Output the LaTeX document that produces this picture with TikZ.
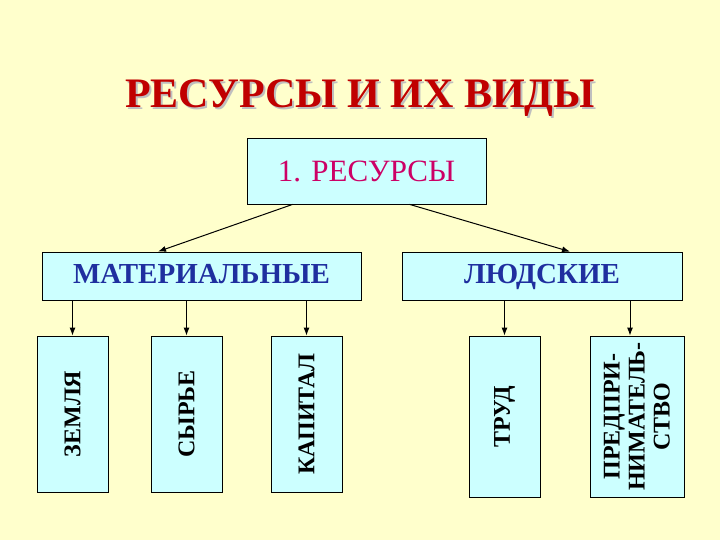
\documentclass[tikz,border=0pt]{standalone}
\usepackage{fontspec}
\setmainfont{Liberation Serif}
\usetikzlibrary{arrows.meta}
\begin{document}
\begin{tikzpicture}[x=1pt,y=-1pt,
  box/.style={draw=black,fill=cyanbox,line width=0.8pt,inner sep=0pt},
  arr/.style={-{Latex[length=8pt,width=6pt]},line width=1pt},
  vt/.style={rotate=90,font=\fontsize{24}{22}\selectfont\bfseries,align=center}]
\definecolor{bg}{HTML}{FFFFCC}
\definecolor{cyanbox}{HTML}{CCFFFF}
\definecolor{titred}{HTML}{C00000}
\definecolor{pinkred}{HTML}{CC0066}
\definecolor{navy}{HTML}{1F2F9F}
\fill[bg] (0,0) rectangle (720,540);
\useasboundingbox (0,0) rectangle (720,540);
\node[text=gray!50,font=\fontsize{42}{44}\selectfont\bfseries] (shadow) at (362,100) {РЕСУРСЫ И ИХ ВИДЫ};
\node[text=titred,font=\fontsize{42}{44}\selectfont\bfseries] (title) at (360,98) {РЕСУРСЫ И ИХ ВИДЫ};
\node[box,minimum width=239pt,minimum height=66pt,text=pinkred,font=\fontsize{31}{33}\selectfont] (res) at (366.5,171) {1. РЕСУРСЫ};
\node[box,minimum width=319pt,minimum height=48pt,text height=20pt,text depth=6pt,text=navy,font=\fontsize{29}{31}\selectfont\bfseries] (mat) at (201.5,276) {МАТЕРИАЛЬНЫЕ};
\node[box,minimum width=280pt,minimum height=48pt,text height=20pt,text depth=6pt,text=navy,font=\fontsize{29}{31}\selectfont\bfseries] (lud) at (542,276) {ЛЮДСКИЕ};
\node[box,minimum width=71pt,minimum height=156pt] (z) at (72.5,414) {};
\node[vt] at (z) {ЗЕМЛЯ};
\node[box,minimum width=71pt,minimum height=156pt] (s) at (186.5,414) {};
\node[vt] at (s) {СЫРЬЕ};
\node[box,minimum width=71pt,minimum height=156pt] (k) at (306.5,414) {};
\node[vt] at (k) {КАПИТАЛ};
\node[box,minimum width=71pt,minimum height=161pt] (t) at (504.5,416.5) {};
\node[vt] at (t) {ТРУД};
\node[box,minimum width=94pt,minimum height=161pt] (p) at (637,416.5) {};
\node[vt,font=\fontsize{24}{25}\selectfont\bfseries] at (p) {ПРЕДПРИ-\\НИМАТЕЛЬ-\\СТВО};
\draw[arr] ([xshift=46pt]res.south west) -- ([xshift=-43.5pt]mat.north);
\draw[arr] ([xshift=163pt]res.south west) -- ([xshift=28pt]lud.north);
\draw[arr] (mat.south -| z.north) -- (z.north);
\draw[arr] (mat.south -| s.north) -- (s.north);
\draw[arr] (mat.south -| k.north) -- (k.north);
\draw[arr] (lud.south -| t.north) -- (t.north);
\draw[arr] (lud.south -| 630,0) -- ([xshift=-7pt]p.north);
\end{tikzpicture}
\end{document}
